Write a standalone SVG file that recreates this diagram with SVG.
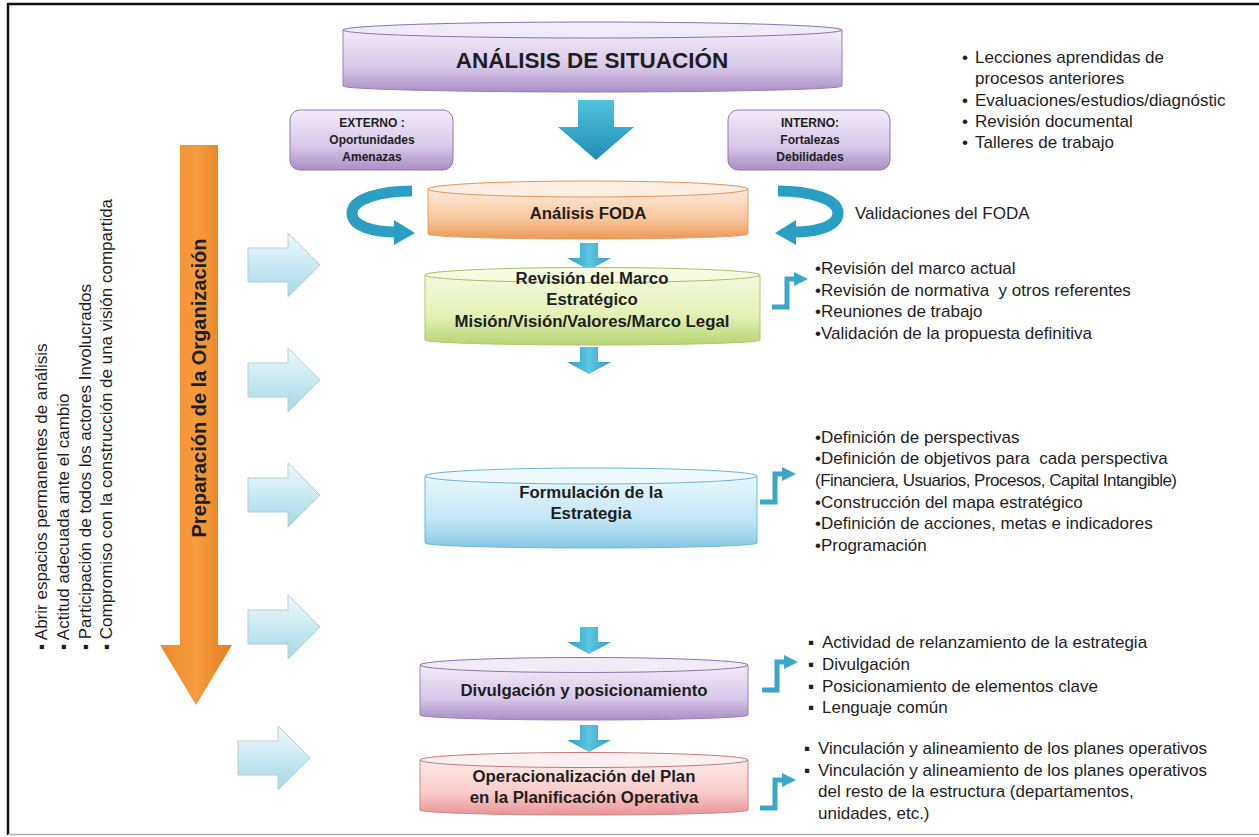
<svg xmlns="http://www.w3.org/2000/svg" xmlns:xlink="http://www.w3.org/1999/xlink" width="1259" height="837" viewBox="0 0 1259 837">
<defs>
<linearGradient id="gPurple" x1="0" y1="0" x2="0" y2="1"><stop offset="0" stop-color="#f2ebf8"/><stop offset="0.6" stop-color="#d8c8e8"/><stop offset="1" stop-color="#a98ec6"/></linearGradient>
<linearGradient id="gOrange" x1="0" y1="0" x2="0" y2="1"><stop offset="0" stop-color="#fdeadb"/><stop offset="0.6" stop-color="#f8c69c"/><stop offset="1" stop-color="#ec9856"/></linearGradient>
<linearGradient id="gGreen" x1="0" y1="0" x2="0" y2="1"><stop offset="0" stop-color="#f6fbde"/><stop offset="0.6" stop-color="#e2f0b2"/><stop offset="1" stop-color="#b8d474"/></linearGradient>
<linearGradient id="gBlue" x1="0" y1="0" x2="0" y2="1"><stop offset="0" stop-color="#e9f7fc"/><stop offset="0.6" stop-color="#c2e7f4"/><stop offset="1" stop-color="#84c8e2"/></linearGradient>
<linearGradient id="gPink" x1="0" y1="0" x2="0" y2="1"><stop offset="0" stop-color="#fdebeb"/><stop offset="0.6" stop-color="#f8caca"/><stop offset="1" stop-color="#ea9494"/></linearGradient>
<linearGradient id="gTeal" x1="0" y1="0" x2="0" y2="1"><stop offset="0" stop-color="#52c3de"/><stop offset="1" stop-color="#1f8db4"/></linearGradient>
<linearGradient id="gTealH" x1="0" y1="0" x2="1" y2="0"><stop offset="0" stop-color="#2b9cc2"/><stop offset="0.5" stop-color="#5cc6e0"/><stop offset="1" stop-color="#2b9cc2"/></linearGradient>
<linearGradient id="gLight" x1="0" y1="0" x2="0" y2="1"><stop offset="0" stop-color="#eef9fc"/><stop offset="1" stop-color="#a3d9e6"/></linearGradient>
<linearGradient id="gOrangeArrow" x1="0" y1="0" x2="1" y2="0"><stop offset="0" stop-color="#ee8a2a"/><stop offset="0.5" stop-color="#f59c3e"/><stop offset="1" stop-color="#e57d1e"/></linearGradient>
<path id="lightArrow" d="M0,-17 H40 V-32 L72,0 L40,32 V17 H0 Z"/>
<path id="smallDown" d="M-9,0 H9 V15 H22 L0,27 L-22,15 H-9 Z"/>
<g id="elbow">
<path d="M0,0 H15 V-28 H24" fill="none" stroke="#3aa6c8" stroke-width="5"/>
<polygon points="22,-35 36,-28 22,-21" fill="#3aa6c8"/>
</g>
</defs>
<style>
text{font-family:"Liberation Sans",Arial,sans-serif;fill:#1e1e1e}
.t{font-size:17px}
.b{font-weight:bold;font-size:16.8px;text-anchor:middle}
.bs{font-weight:bold;font-size:12px;text-anchor:middle}
.la{fill:url(#gLight);stroke:#b9cdd2;stroke-width:1}
.sd{fill:url(#gTealH)}
</style>
<rect x="0" y="0" width="1259" height="837" fill="#ffffff"/>
<g id="frame">
<line x1="8" y1="4" x2="1259" y2="4" stroke="#111" stroke-width="2.5"/>
<line x1="8" y1="3" x2="8" y2="835" stroke="#111" stroke-width="2.5"/>
<line x1="8" y1="834.5" x2="1259" y2="834.5" stroke="#b0b0b0" stroke-width="1.5"/>
</g>

<g id="connectors">
<polygon points="578,100 614,100 614,127 634,127 596,160 558,127 578,127" fill="url(#gTeal)"/>
<g id="curve-left">
<path d="M412,191 C380,191 352,199 352,213 C352,226 372,232 396,232" fill="none" stroke="#2b9fc3" stroke-width="11"/>
<polygon points="394,220 415,233 394,245" fill="#2b9fc3"/>
</g>
<g id="curve-right" transform="translate(1190,0) scale(-1,1)">
<path d="M412,191 C380,191 352,199 352,213 C352,226 372,232 396,232" fill="none" stroke="#2b9fc3" stroke-width="11"/>
<polygon points="394,220 415,233 394,245" fill="#2b9fc3"/>
</g>
<use xlink:href="#smallDown" href="#smallDown" class="sd" transform="translate(589,243)"/>
<use xlink:href="#smallDown" href="#smallDown" class="sd" transform="translate(589,347)"/>
<use xlink:href="#smallDown" href="#smallDown" class="sd" transform="translate(589,627)"/>
<use xlink:href="#smallDown" href="#smallDown" class="sd" transform="translate(589,725)"/>
<use xlink:href="#elbow" href="#elbow" transform="translate(772,307)"/>
<use xlink:href="#elbow" href="#elbow" transform="translate(760,502)"/>
<use xlink:href="#elbow" href="#elbow" transform="translate(762,690)"/>
<use xlink:href="#elbow" href="#elbow" transform="translate(760,808)"/>
<use xlink:href="#lightArrow" href="#lightArrow" class="la" transform="translate(248,265)"/>
<use xlink:href="#lightArrow" href="#lightArrow" class="la" transform="translate(248,380)"/>
<use xlink:href="#lightArrow" href="#lightArrow" class="la" transform="translate(248,495)"/>
<use xlink:href="#lightArrow" href="#lightArrow" class="la" transform="translate(248,627)"/>
<use xlink:href="#lightArrow" href="#lightArrow" class="la" transform="translate(238,758)"/>
</g>

<g id="analisis-situacion">
<path d="M343,30 V86 A249.5,6 0 0 0 842,86 V30 Z" fill="url(#gPurple)" stroke="#9a80b8" stroke-width="1"/>
<ellipse cx="592.5" cy="30" rx="249.5" ry="8" fill="#f1ebf7" stroke="#8e72ad" stroke-width="1"/>
<text x="592" y="68" style="font-weight:bold;font-size:22.5px;text-anchor:middle">ANÁLISIS DE SITUACIÓN</text>
</g>

<g id="fuentes">
<text class="t" x="962" y="63">•</text><text class="t" x="975" y="63">Lecciones aprendidas de</text>
<text class="t" x="975" y="84">procesos anteriores</text>
<text class="t" x="962" y="106">•</text><text class="t" x="975" y="106">Evaluaciones/estudios/diagnóstic</text>
<text class="t" x="962" y="127">•</text><text class="t" x="975" y="127">Revisión documental</text>
<text class="t" x="962" y="148">•</text><text class="t" x="975" y="148">Talleres de trabajo</text>
</g>

<g id="externo">
<rect x="290" y="110" width="163" height="60" rx="10" fill="url(#gPurple)" stroke="#9079b0" stroke-width="1"/>
<text class="bs" x="372" y="127">EXTERNO :</text>
<text class="bs" x="372" y="144">Oportunidades</text>
<text class="bs" x="372" y="161">Amenazas</text>
</g>

<g id="interno">
<rect x="728" y="110" width="162" height="60" rx="10" fill="url(#gPurple)" stroke="#9079b0" stroke-width="1"/>
<text class="bs" x="810" y="127">INTERNO:</text>
<text class="bs" x="810" y="144">Fortalezas</text>
<text class="bs" x="810" y="161">Debilidades</text>
</g>

<g id="foda">
<path d="M428,189 V234 A160,5 0 0 0 748,234 V189 Z" fill="url(#gOrange)" stroke="#e3a06a" stroke-width="1"/>
<ellipse cx="588" cy="189" rx="160" ry="8" fill="#fdeee2" stroke="#e0955a" stroke-width="1"/>
<text class="b" x="588" y="219">Análisis FODA</text>
</g>
<text class="t" x="855" y="219">Validaciones del FODA</text>

<g id="revision-marco">
<path d="M425,275 V340 A167.5,5 0 0 0 760,340 V275 Z" fill="url(#gGreen)" stroke="#acc870" stroke-width="1"/>
<ellipse cx="592.5" cy="275" rx="167.5" ry="7.5" fill="#f6fbe2" stroke="#a6c266" stroke-width="1"/>
<text class="b" x="592" y="284">Revisión del Marco</text>
<text class="b" x="592" y="305">Estratégico</text>
<text class="b" x="592" y="327">Misión/Visión/Valores/Marco Legal</text>
</g>
<g id="lista-revision">
<text class="t" x="815" y="274">•Revisión del marco actual</text>
<text class="t" x="815" y="296" xml:space="preserve">•Revisión de normativa  y otros referentes</text>
<text class="t" x="815" y="317">•Reuniones de trabajo</text>
<text class="t" x="815" y="339">•Validación de la propuesta definitiva</text>
</g>

<g id="formulacion">
<path d="M425,476 V543 A166,5 0 0 0 757,543 V476 Z" fill="url(#gBlue)" stroke="#70b8d4" stroke-width="1"/>
<ellipse cx="591" cy="476" rx="166" ry="8" fill="#eef9fd" stroke="#6cb6d2" stroke-width="1"/>
<text class="b" x="591" y="498">Formulación de la</text>
<text class="b" x="591" y="519">Estrategia</text>
</g>
<g id="lista-formulacion">
<text class="t" x="815" y="443">•Definición de perspectivas</text>
<text class="t" x="815" y="464" xml:space="preserve">•Definición de objetivos para  cada perspectiva</text>
<text class="t" x="815" y="486" textLength="362" lengthAdjust="spacing">(Financiera, Usuarios, Procesos, Capital Intangible)</text>
<text class="t" x="815" y="508">•Construcción del mapa estratégico</text>
<text class="t" x="815" y="529">•Definición de acciones, metas e indicadores</text>
<text class="t" x="815" y="551">•Programación</text>
</g>

<g id="divulgacion">
<path d="M420,665 V715 A164,5 0 0 0 748,715 V665 Z" fill="url(#gPurple)" stroke="#9a80b8" stroke-width="1"/>
<ellipse cx="584" cy="665" rx="164" ry="7.5" fill="#f1ebf7" stroke="#8e72ad" stroke-width="1"/>
<text class="b" x="584" y="696">Divulgación y posicionamiento</text>
</g>
<g id="lista-divulgacion">
<text class="t" x="808" y="648">▪</text><text class="t" x="822" y="648">Actividad de relanzamiento de la estrategia</text>
<text class="t" x="808" y="670">▪</text><text class="t" x="822" y="670">Divulgación</text>
<text class="t" x="808" y="692">▪</text><text class="t" x="822" y="692">Posicionamiento de elementos clave</text>
<text class="t" x="808" y="713">▪</text><text class="t" x="822" y="713">Lenguaje común</text>
</g>

<g id="operacionalizacion">
<path d="M420,760 V810 A164,5 0 0 0 748,810 V760 Z" fill="url(#gPink)" stroke="#d08686" stroke-width="1"/>
<ellipse cx="584" cy="760" rx="164" ry="7.5" fill="#fdf0f0" stroke="#c87878" stroke-width="1"/>
<text class="b" x="584" y="782">Operacionalización del Plan</text>
<text class="b" x="584" y="803">en la Planificación Operativa</text>
</g>
<g id="lista-operacionalizacion">
<text class="t" x="804" y="754">▪</text><text class="t" x="818" y="754">Vinculación y alineamiento de los planes operativos</text>
<text class="t" x="804" y="776">▪</text><text class="t" x="818" y="776">Vinculación y alineamiento de los planes operativos</text>
<text class="t" x="818" y="797">del resto de la estructura (departamentos,</text>
<text class="t" x="818" y="819">unidades, etc.)</text>
</g>

<g id="preparacion">
<polygon points="180,145 218,145 218,645 232,645 196,705 160,645 180,645" fill="url(#gOrangeArrow)"/>
<text transform="translate(206,388) rotate(-90)" style="font-weight:bold;font-size:20px;text-anchor:middle">Preparación de la Organización</text>
</g>

<g id="actitudes">
<text class="t" transform="translate(47,650) rotate(-90)">▪ Abrir espacios permanentes de análisis</text>
<text class="t" transform="translate(69,650) rotate(-90)">▪ Actitud adecuada ante el cambio</text>
<text class="t" transform="translate(91,650) rotate(-90)">▪ Participación de todos los actores Involucrados</text>
<text class="t" transform="translate(112,650) rotate(-90)">▪ Compromiso con la construcción de una visión compartida</text>
</g>
</svg>
